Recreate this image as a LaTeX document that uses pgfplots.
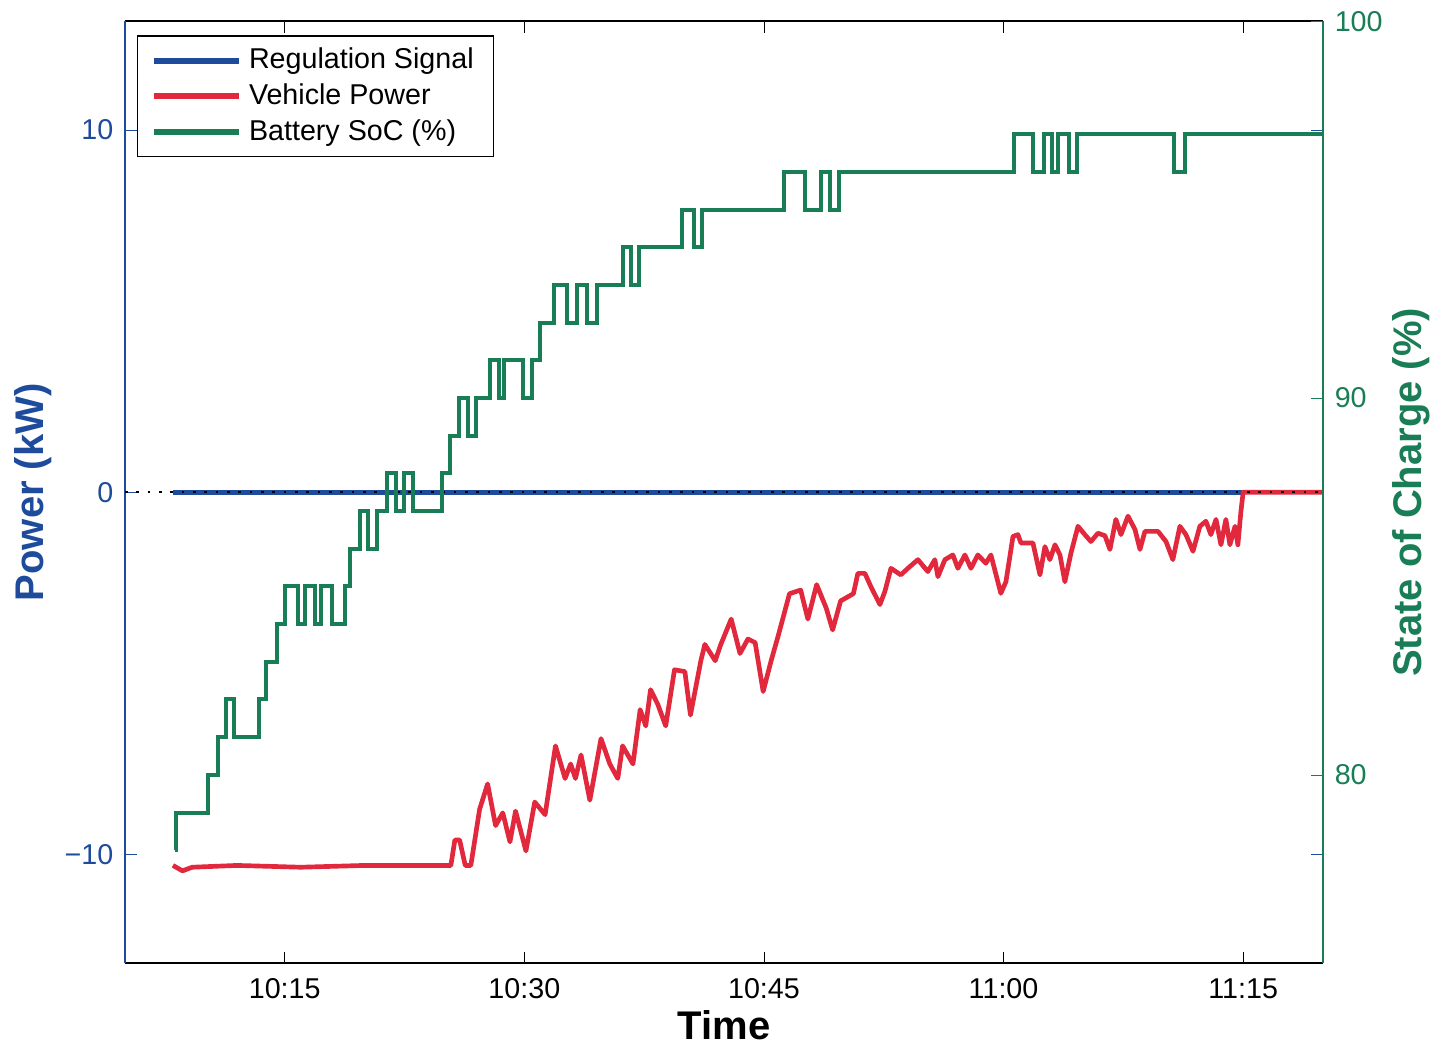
\documentclass[border=0pt]{standalone}
\usepackage{fontspec}
\setmainfont{Liberation Sans}
\usepackage{pgfplots}
\pgfplotsset{compat=1.18}
\usetikzlibrary{calc}
\definecolor{sigblue}{RGB}{30,75,155}
\definecolor{vehred}{RGB}{225,40,60}
\definecolor{socgreen}{RGB}{25,125,85}

\begin{document}
\begin{tikzpicture}
% power axis (left)
\begin{axis}[
  name=pw,
  scale only axis, width=359.4pt, height=282.6pt,
  xmin=5, xmax=80, ymin=-13, ymax=13,
  xtick={15,30,45,60,75}, xticklabels={10:15,10:30,10:45,11:00,11:15},
  ytick={-10,0,10}, yticklabels={−10,0,10},
  xtick pos=both, ytick pos=both, tick align=inside,
  major tick length=3.5pt,
  separate axis lines,
  x axis line style={black, line width=0.6pt},
  y axis line style={sigblue, line width=0.6pt},
  xtick style={black}, ytick style={sigblue},
  xticklabel style={font=\fontsize{8.6}{10}\selectfont, yshift=-1pt},
  yticklabel style={sigblue, font=\fontsize{8.6}{10}\selectfont},
  xlabel={\textbf{Time}}, ylabel={\textbf{Power (kW)}},
  xlabel style={font=\fontsize{12}{14}\selectfont, inner sep=0pt, at={(axis description cs:0.5,-0.066)}, anchor=center},
  ylabel style={sigblue, font=\fontsize{12}{14}\selectfont, inner sep=0pt, at={(axis description cs:-0.077,0.5)}, anchor=center},
]
% regulation signal
\addplot[sigblue, line width=1.5pt] coordinates {(8,0) (75,0)};
% vehicle power
\addplot[vehred, line width=1.4pt, line join=round] coordinates {
(8.0,-10.3) (8.6,-10.45) (9.2,-10.35) (12,-10.3) (16,-10.35) (20,-10.3) (25.4,-10.3)
(25.65,-9.6) (25.95,-9.6) (26.3,-10.3) (26.65,-10.3) (27.2,-8.75) (27.7,-8.05)
(28.2,-9.2) (28.65,-8.85) (29.1,-9.65) (29.45,-8.8) (30.1,-9.9) (30.65,-8.55)
(31.3,-8.9) (31.95,-7.0) (32.55,-7.9) (32.9,-7.5) (33.2,-7.9) (33.55,-7.25)
(34.1,-8.5) (34.8,-6.8) (35.35,-7.5) (35.85,-7.9) (36.15,-7.0) (36.8,-7.5)
(37.25,-6.0) (37.6,-6.45) (37.9,-5.45) (38.35,-5.85) (38.85,-6.45) (39.4,-4.9)
(40.05,-4.95) (40.4,-6.15) (41.05,-4.65) (41.3,-4.2) (41.95,-4.65) (42.3,-4.2)
(42.95,-3.5) (43.5,-4.45) (44.0,-4.05) (44.45,-4.15) (44.95,-5.5) (45.45,-4.65)
(45.9,-3.95) (46.6,-2.8) (47.3,-2.7) (47.75,-3.5) (48.3,-2.55) (48.9,-3.2)
(49.3,-3.8) (49.8,-3.0) (50.6,-2.8) (50.88,-2.24) (51.32,-2.24) (51.69,-2.6)
(52.26,-3.1) (52.57,-2.74) (52.95,-2.1) (53.57,-2.28) (54.01,-2.1) (54.64,-1.86)
(55.26,-2.19) (55.7,-1.86) (55.89,-2.33) (56.33,-1.86) (56.83,-1.73) (57.14,-2.1)
(57.58,-1.73) (57.96,-2.1) (58.39,-1.73) (58.89,-1.96) (59.21,-1.73) (59.83,-2.79)
(60.15,-2.47) (60.59,-1.22) (60.9,-1.17) (61.09,-1.4) (61.84,-1.4) (62.28,-2.28)
(62.59,-1.5) (62.9,-1.86) (63.22,-1.45) (63.53,-1.73) (63.84,-2.47) (64.22,-1.68)
(64.66,-0.94) (65.09,-1.17) (65.47,-1.36) (65.91,-1.13) (66.35,-1.2) (66.66,-1.58)
(67.03,-0.75) (67.35,-1.17) (67.79,-0.66) (68.23,-1.03) (68.54,-1.58) (68.85,-1.08)
(69.67,-1.08) (70.17,-1.36) (70.6,-1.86) (71.04,-0.94) (71.42,-1.17) (71.86,-1.63)
(72.29,-0.94) (72.67,-0.8) (72.98,-1.17) (73.3,-0.75) (73.61,-1.45) (73.92,-0.75)
(74.17,-1.45) (74.49,-0.94) (74.67,-1.45) (74.86,-0.53) (75.0,0) (80,0)
};
% zero reference
\addplot[black, line width=0.5pt, dash pattern=on 0.8pt off 2.6pt] coordinates {(5,0) (80,0)};
\end{axis}
% state of charge axis (right)
\begin{axis}[
  scale only axis, width=359.4pt, height=282.6pt,
  xmin=5, xmax=80, ymin=75, ymax=100,
  axis x line=none, axis y line*=right,
  ytick={80,90,100}, yticklabels={80,90,100}, tick align=inside,
  major tick length=3.5pt,
  axis line style={socgreen, line width=0.6pt},
  ytick style={socgreen},
  yticklabel style={socgreen, font=\fontsize{8.6}{10}\selectfont},
  ylabel={\textbf{State of Charge (\%)}},
  ylabel style={socgreen, font=\fontsize{12}{14}\selectfont, inner sep=0pt, at={(axis description cs:1.074,0.5)}, anchor=center},
  legend style={at={(axis description cs:0.01,0.985)}, anchor=north west,
    draw=black, fill=white, font=\fontsize{8.6}{10}\selectfont,
    inner xsep=4pt, inner ysep=1.5pt, row sep=-1pt},
  legend cell align=left,
  legend image code/.code={\draw[#1, line width=1.8pt] (0cm,0cm) -- (0.9cm,0cm);},
]
\addlegendimage{sigblue}
\addlegendentry{Regulation Signal}
\addlegendimage{vehred}
\addlegendentry{Vehicle Power}
\addplot[socgreen, line width=1.2pt, const plot] coordinates {
(8.1,78) (8.2,79) (10.2,80) (10.8,81) (11.3,82) (11.8,81) (13.4,82) (13.8,83)
(14.5,84) (15.0,85) (15.8,84) (16.25,85) (16.9,84) (17.3,85) (17.95,84) (18.75,85)
(19.1,86) (19.7,87) (20.2,86) (20.75,87) (21.4,88) (21.95,87) (22.45,88) (23.0,87)
(24.85,88) (25.35,89) (25.9,90) (26.45,89) (27.0,90) (27.85,91) (28.4,90) (28.7,91)
(29.9,90) (30.45,91) (30.95,92) (31.85,93) (32.65,92) (33.3,93) (33.95,92) (34.55,93)
(36.15,94) (36.7,93) (37.15,94) (39.9,95) (40.65,94) (41.15,95) (46.25,96) (47.55,95)
(48.55,96) (49.15,95) (49.7,96) (60.65,97) (61.85,96) (62.55,97) (63.05,96) (63.4,97)
(64.1,96) (64.6,97) (70.65,96) (71.35,97) (80,97)
};
\addlegendentry{Battery SoC (\%)}
\end{axis}
\path ($(pw.south west)+(-37.5pt,-24pt)$) rectangle ($(pw.north east)+(33.3pt,5.4pt)$);
\end{tikzpicture}
\end{document}
